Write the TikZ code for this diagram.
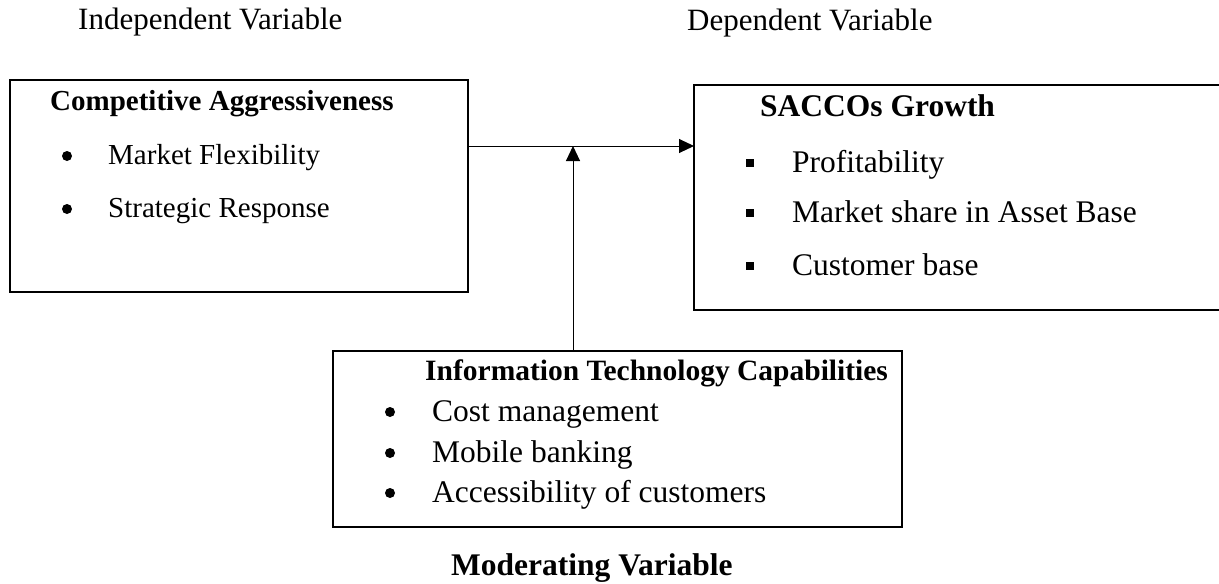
\documentclass[tikz,border=0pt]{standalone}
\usepackage{fontspec}
\setmainfont{Liberation Serif}
\usetikzlibrary{arrows.meta}

\tikzset{
  varbox/.style={draw, line width=2.6pt, inner sep=0pt, outer sep=0pt, anchor=north west},
  small/.style={font=\fontsize{29}{34}\selectfont, anchor=base west, inner sep=0pt},
  large/.style={font=\fontsize{31.5}{37}\selectfont, anchor=base west, inner sep=0pt},
  smallhead/.style={small, font=\fontsize{29}{34}\selectfont\bfseries},
  largehead/.style={large, font=\fontsize{31.5}{37}\selectfont\bfseries},
  dotbullet/.style={circle, fill=black, minimum size=10pt, inner sep=0pt},
  sqbullet/.style={fill=black, minimum size=7.5pt, inner sep=0pt},
  link/.style={line width=1pt, -{Triangle[length=15pt, width=14pt]}}
}

\begin{document}
\begin{tikzpicture}[x=1pt, y=-1pt]
\useasboundingbox (0,0) rectangle (1219,584);

% column headings
\node[small, font=\fontsize{31}{36}\selectfont] (indep) at (78,29) {Independent Variable};
\node[small, font=\fontsize{31}{36}\selectfont] (dep) at (687,30) {Dependent Variable};

% independent variable box
\node[varbox, minimum width=458pt, minimum height=212pt] (iv) at (10,80) {};
\node[smallhead] (ivt) at (50,110) {Competitive Aggressiveness};
\node[dotbullet] (ivb1) at (67,156) {};
\node[small] (ivi1) at (108,164) {Market Flexibility};
\node[dotbullet] (ivb2) at (67,209) {};
\node[small] (ivi2) at (108,217) {Strategic Response};

% dependent variable box
\node[varbox, minimum width=530pt, minimum height=225pt] (dv) at (694,85) {};
\node[largehead] (dvt) at (760,116) {SACCOs Growth};
\node[sqbullet] (dvb1) at (750,163) {};
\node[large] (dvi1) at (792,172) {Profitability};
\node[sqbullet] (dvb2) at (750,213) {};
\node[large] (dvi2) at (792,222) {Market share in Asset Base};
\node[sqbullet] (dvb3) at (750,266) {};
\node[large] (dvi3) at (792,275) {Customer base};

% moderating variable box
\node[varbox, minimum width=569pt, minimum height=176pt] (mv) at (333,351) {};
\node[smallhead, font=\fontsize{29.5}{35}\selectfont\bfseries] (mvt) at (425,380) {Information Technology Capabilities};
\node[dotbullet] (mvb1) at (390,412) {};
\node[large] (mvi1) at (432,421) {Cost management};
\node[dotbullet] (mvb2) at (390,453) {};
\node[large] (mvi2) at (432,462) {Mobile banking};
\node[dotbullet] (mvb3) at (390,493) {};
\node[large] (mvi3) at (432,502) {Accessibility of customers};
\node[largehead] (mod) at (451,575) {Moderating Variable};

% connectors
\coordinate (hy) at (0,146);
\coordinate (join) at (573,146);
\draw[link] (iv.east |- hy) -- (dv.west |- hy);
\draw[link] (mv.north -| join) -- (join);
\end{tikzpicture}
\end{document}
